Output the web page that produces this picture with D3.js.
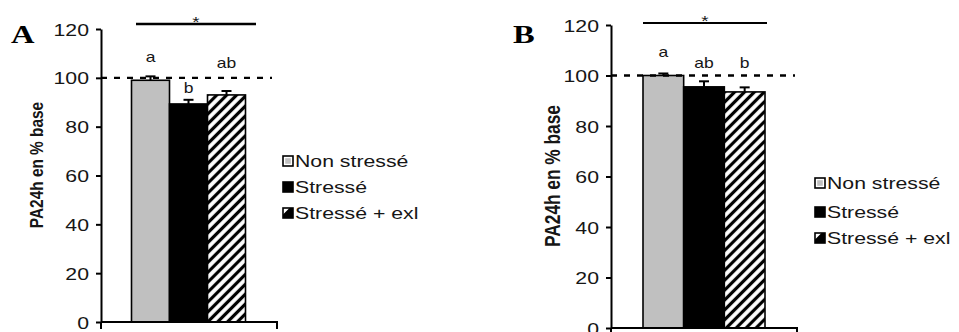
<!DOCTYPE html>
<html>
<head>
<meta charset="utf-8">
<script src="https://cdn.jsdelivr.net/npm/d3@7"></script>
<style>
body { margin: 0; background: #fff; }
svg { display: block; font-family: "Liberation Sans", Arial, sans-serif; }
</style>
</head>
<body>
<svg id="fig" width="959" height="332"></svg>
<script>
const groups = ['Non stressé', 'Stressé', 'Stressé + exl'];
const yTicks = [0, 20, 40, 60, 80, 100, 120];
const meansA = [99, 89.3, 93];
const semA = [1.6, 1.7, 1.6];
const lettersA = ['a', 'b', 'ab'];
const letterLevelA = [106.5, 93.8, 104];
const meansB = [100, 95.5, 93.5];
const semB = [0.8, 2.2, 1.8];
const lettersB = ['a', 'ab', 'b'];
const letterLevelB = [107.3, 103, 103];
const yLabel = 'PA24h en % base';
const baseline = 100;
const sigLabel = '*';

const fills = ['#c0c0c0', '#000', 'url(#hatch)'];
const ink = '#161616';
const sx = 1.25; // the source figure is stretched horizontally

const svg = d3.select('#fig');

const pat = svg.append('defs').append('pattern')
    .attr('id', 'hatch')
    .attr('patternUnits', 'userSpaceOnUse')
    .attr('width', 7).attr('height', 7)
    .attr('patternTransform', 'rotate(45)');
pat.append('rect').attr('width', 7).attr('height', 7).attr('fill', '#fff');
pat.append('line').attr('x1', 3.5).attr('x2', 3.5).attr('y1', 0).attr('y2', 7)
    .attr('stroke', '#000').attr('stroke-width', 3.2);

const panels = [
    {tag: 'A', means: meansA, sem: semA, letters: lettersA, letterLevel: letterLevelA,
     x0: 101, yTop: 29, yBot: 322, barL: 131.5, barR: 245.5, axisEnd: 277, dashEnd: 272,
     sig: [136, 256], sigLevel: 122, sigW: 2.5, labelX: 43, labelY: 165, labelSize: 15.4,
     tagX: 11, tagY: 43, legX: 283, legY: [161, 187, 213]},
    {tag: 'B', means: meansB, sem: semB, letters: lettersB, letterLevel: letterLevelB,
     x0: 611, yTop: 25, yBot: 328, barL: 643, barR: 765, axisEnd: 797, dashEnd: 795,
     sig: [643, 767], sigLevel: 120.8, sigW: 1.8, labelX: 560, labelY: 176, labelSize: 17.3,
     tagX: 513, tagY: 43, legX: 815, legY: [183, 212, 238]}
];

function stretchText(sel, x, y, extra) {
    sel.attr('transform', `translate(${x},${y}) scale(${sx},1)` + (extra || ''));
}

panels.forEach(p => {
    const g = svg.append('g');
    const y = d3.scaleLinear().domain([0, 120]).range([p.yBot, p.yTop]);
    const x = d3.scaleBand().domain(groups).range([p.barL, p.barR]).padding(0);

    // bars
    g.selectAll('rect.bar')
        .data(groups)
        .enter()
        .append('rect')
        .attr('class', 'bar')
        .attr('x', d => x(d))
        .attr('y', (d, i) => y(p.means[i]))
        .attr('width', x.bandwidth())
        .attr('height', (d, i) => y(0) - y(p.means[i]))
        .attr('fill', (d, i) => fills[i])
        .attr('stroke', '#000')
        .attr('stroke-width', 1.6);

    // error bars (upper only)
    const eb = g.selectAll('g.err')
        .data(groups)
        .enter()
        .append('g')
        .attr('stroke', '#000')
        .attr('stroke-width', 2);
    eb.append('line')
        .attr('x1', d => x(d) + x.bandwidth() / 2)
        .attr('x2', d => x(d) + x.bandwidth() / 2)
        .attr('y1', (d, i) => y(p.means[i]))
        .attr('y2', (d, i) => y(p.means[i] + p.sem[i]));
    eb.append('line')
        .attr('x1', d => x(d) + x.bandwidth() / 2 - 5)
        .attr('x2', d => x(d) + x.bandwidth() / 2 + 5)
        .attr('y1', (d, i) => y(p.means[i] + p.sem[i]))
        .attr('y2', (d, i) => y(p.means[i] + p.sem[i]));

    // dashed 100 % line
    g.append('line')
        .attr('x1', p.x0).attr('x2', p.dashEnd)
        .attr('y1', y(baseline)).attr('y2', y(baseline))
        .attr('stroke', '#000')
        .attr('stroke-width', 2.4)
        .attr('stroke-dasharray', '6,7');

    // y axis
    const ax = g.append('g')
        .attr('transform', `translate(${p.x0},0)`)
        .call(d3.axisLeft(y).tickValues(yTicks).tickSize(5).tickSizeOuter(0));
    ax.select('.domain').attr('stroke', '#000').attr('stroke-width', 2);
    ax.selectAll('.tick line').attr('stroke', '#000').attr('stroke-width', 2);
    ax.selectAll('.tick text')
        .attr('x', null)
        .attr('dy', '0.36em')
        .attr('font-size', 17)
        .attr('fill', ink)
        .attr('font-family', '"Liberation Sans", Arial, sans-serif')
        .attr('transform', `translate(-12,0) scale(${sx},1)`);

    // x axis line with end ticks pointing down
    g.append('path')
        .attr('d', `M${p.x0},${p.yBot}V${p.yBot + 7}M${p.x0},${p.yBot}H${p.axisEnd}V${p.yBot + 7}`)
        .attr('fill', 'none')
        .attr('stroke', '#000')
        .attr('stroke-width', 2);

    // significance bar
    g.append('line')
        .attr('x1', p.sig[0]).attr('x2', p.sig[1])
        .attr('y1', y(p.sigLevel)).attr('y2', y(p.sigLevel))
        .attr('stroke', '#000')
        .attr('stroke-width', p.sigW);
    g.append('text')
        .text(sigLabel)
        .attr('text-anchor', 'middle')
        .attr('font-size', 15)
        .attr('fill', ink)
        .call(stretchText, (p.sig[0] + p.sig[1]) / 2, y(p.sigLevel) + 3);

    // letters
    g.selectAll('text.letter')
        .data(groups)
        .enter()
        .append('text')
        .attr('class', 'letter')
        .text((d, i) => p.letters[i])
        .attr('text-anchor', 'middle')
        .attr('font-size', 14)
        .attr('fill', ink)
        .each(function (d, i) {
            d3.select(this).call(stretchText, x(d) + x.bandwidth() / 2, y(p.letterLevel[i]));
        });

    // y label
    g.append('text')
        .text(yLabel)
        .attr('text-anchor', 'middle')
        .attr('font-size', p.labelSize)
        .attr('font-weight', 'bold')
        .attr('fill', ink)
        .call(stretchText, p.labelX, p.labelY, ' rotate(-90)');

    // panel tag
    g.append('text')
        .text(p.tag)
        .attr('font-family', '"Liberation Serif", "Times New Roman", serif')
        .attr('font-weight', 'bold')
        .attr('font-size', 26)
        .attr('fill', '#000')
        .call(stretchText, p.tagX, p.tagY);

    // legend
    const leg = g.selectAll('g.leg')
        .data(groups)
        .enter()
        .append('g')
        .attr('transform', (d, i) => `translate(${p.legX},${p.legY[i]})`);
    leg.append('rect')
        .attr('x', 0).attr('y', -5)
        .attr('width', 10).attr('height', 10)
        .attr('fill', '#fff')
        .attr('stroke', '#000')
        .attr('stroke-width', 1.6);
    // swatch contents
    leg.filter((d, i) => i === 0).append('rect')
        .attr('x', 2.2).attr('y', -2.8).attr('width', 5.6).attr('height', 5.6)
        .attr('fill', fills[0]);
    leg.filter((d, i) => i === 1).append('rect')
        .attr('x', 0).attr('y', -5).attr('width', 10).attr('height', 10)
        .attr('fill', fills[1]);
    leg.filter((d, i) => i === 2).append('path')
        .attr('d', 'M10,-5L10,5L0,5Z M0,5L0,1.5L6.5,-5L10,-5Z')
        .attr('fill', '#000');
    leg.append('text')
        .text(d => d)
        .attr('font-size', 17)
        .attr('fill', ink)
        .call(stretchText, 12, 6);
});
</script>
</body>
</html>
